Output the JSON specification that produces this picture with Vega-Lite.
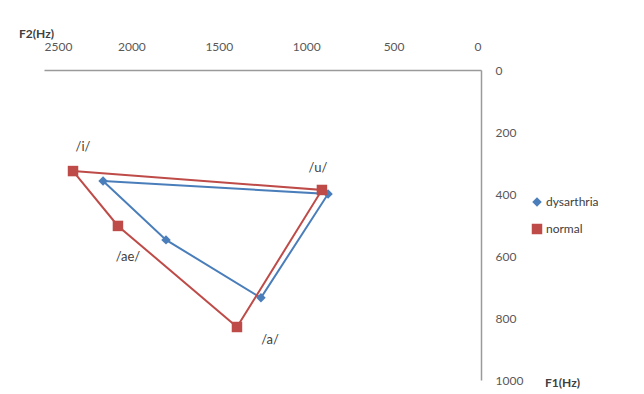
{
  "$schema": "https://vega.github.io/schema/vega-lite/v6.json",
  "width": 437,
  "height": 310,
  "autosize": "none",
  "padding": {"left": 44, "top": 70, "right": 163, "bottom": 14},
  "background": "white",
  "config": {
    "view": {"stroke": null},
    "font": "Lato",
    "axis": {"grid": false, "ticks": false, "domainColor": "#9a9a9a", "domainWidth": 1.5, "labelColor": "#595959", "labelFontSize": 12, "titleFontSize": 12, "titleColor": "#404040", "titleFontWeight": "bold", "format": "d"}
  },
  "data": {
    "values": [
      {"series": "dysarthria", "vowel": "/i/", "order": 1, "F2": 2162, "F1": 358},
      {"series": "dysarthria", "vowel": "/ae/", "order": 2, "F2": 1802, "F1": 548},
      {"series": "dysarthria", "vowel": "/a/", "order": 3, "F2": 1259, "F1": 735},
      {"series": "dysarthria", "vowel": "/u/", "order": 4, "F2": 875, "F1": 400},
      {"series": "dysarthria", "vowel": "/i/", "order": 5, "F2": 2162, "F1": 358},
      {"series": "normal", "vowel": "/i/", "order": 1, "F2": 2334, "F1": 326},
      {"series": "normal", "vowel": "/ae/", "order": 2, "F2": 2077, "F1": 503},
      {"series": "normal", "vowel": "/a/", "order": 3, "F2": 1396, "F1": 829},
      {"series": "normal", "vowel": "/u/", "order": 4, "F2": 910, "F1": 387},
      {"series": "normal", "vowel": "/i/", "order": 5, "F2": 2334, "F1": 326}
    ]
  },
  "encoding": {
    "x": {
      "field": "F2", "type": "quantitative",
      "scale": {"domain": [2500, 0], "nice": false},
      "axis": {"orient": "top", "values": [2500, 2000, 1500, 1000, 500, 0], "format": "d", "labelPadding": 17, "title": "F2(Hz)", "titleX": -8, "titleY": -37, "titleAlign": "center", "titleBaseline": "middle", "titleAngle": 0}
    },
    "y": {
      "field": "F1", "type": "quantitative",
      "scale": {"domain": [0, 1000], "reverse": true, "nice": false},
      "axis": {"orient": "right", "values": [0, 200, 400, 600, 800, 1000], "format": "d", "labelPadding": 14, "labelAlign": "left", "title": "F1(Hz)", "titleX": 81, "titleY": 312, "titleAngle": 0, "titleAlign": "center", "titleBaseline": "middle"}
    },
    "color": {"field": "series", "type": "nominal", "scale": {"domain": ["dysarthria", "normal"], "range": ["#4a7ebb", "#be4b48"]},
      "legend": {"title": null, "orient": "none", "legendX": 487, "legendY": 126, "labelFontSize": 12, "labelColor": "#404040", "rowPadding": 15, "padding": 0, "symbolStrokeWidth": 0, "labelOffset": 3}}
  },
  "layer": [
    {
      "mark": {"type": "line", "strokeWidth": 2},
      "encoding": {
        "detail": {"field": "series"},
        "order": {"field": "order", "type": "quantitative"}
      }
    },
    {
      "transform": [{"filter": "datum.order <= 4"}],
      "mark": {"type": "point", "filled": true, "opacity": 1},
      "encoding": {
        "shape": {"field": "series", "type": "nominal", "scale": {"domain": ["dysarthria", "normal"], "range": ["diamond", "square"]}},
        "size": {"field": "series", "type": "nominal", "scale": {"domain": ["dysarthria", "normal"], "range": [90, 110]}}
      }
    },
    {
      "transform": [{"filter": "datum.series == 'normal' && datum.vowel == '/i/' && datum.order == 1"}],
      "mark": {"type": "text", "dx": 10, "dy": -24, "fontSize": 13},
      "encoding": {"text": {"field": "vowel"}, "color": {"value": "#404040"}}
    },
    {
      "transform": [{"filter": "datum.series == 'normal' && datum.vowel == '/u/'"}],
      "mark": {"type": "text", "dx": -4, "dy": -22, "fontSize": 13},
      "encoding": {"text": {"field": "vowel"}, "color": {"value": "#404040"}}
    },
    {
      "transform": [{"filter": "datum.series == 'normal' && datum.vowel == '/ae/'"}],
      "mark": {"type": "text", "dx": 10, "dy": 31, "fontSize": 13},
      "encoding": {"text": {"field": "vowel"}, "color": {"value": "#404040"}}
    },
    {
      "transform": [{"filter": "datum.series == 'normal' && datum.vowel == '/a/'"}],
      "mark": {"type": "text", "dx": 33, "dy": 13, "fontSize": 13},
      "encoding": {"text": {"field": "vowel"}, "color": {"value": "#404040"}}
    }
  ]
}
